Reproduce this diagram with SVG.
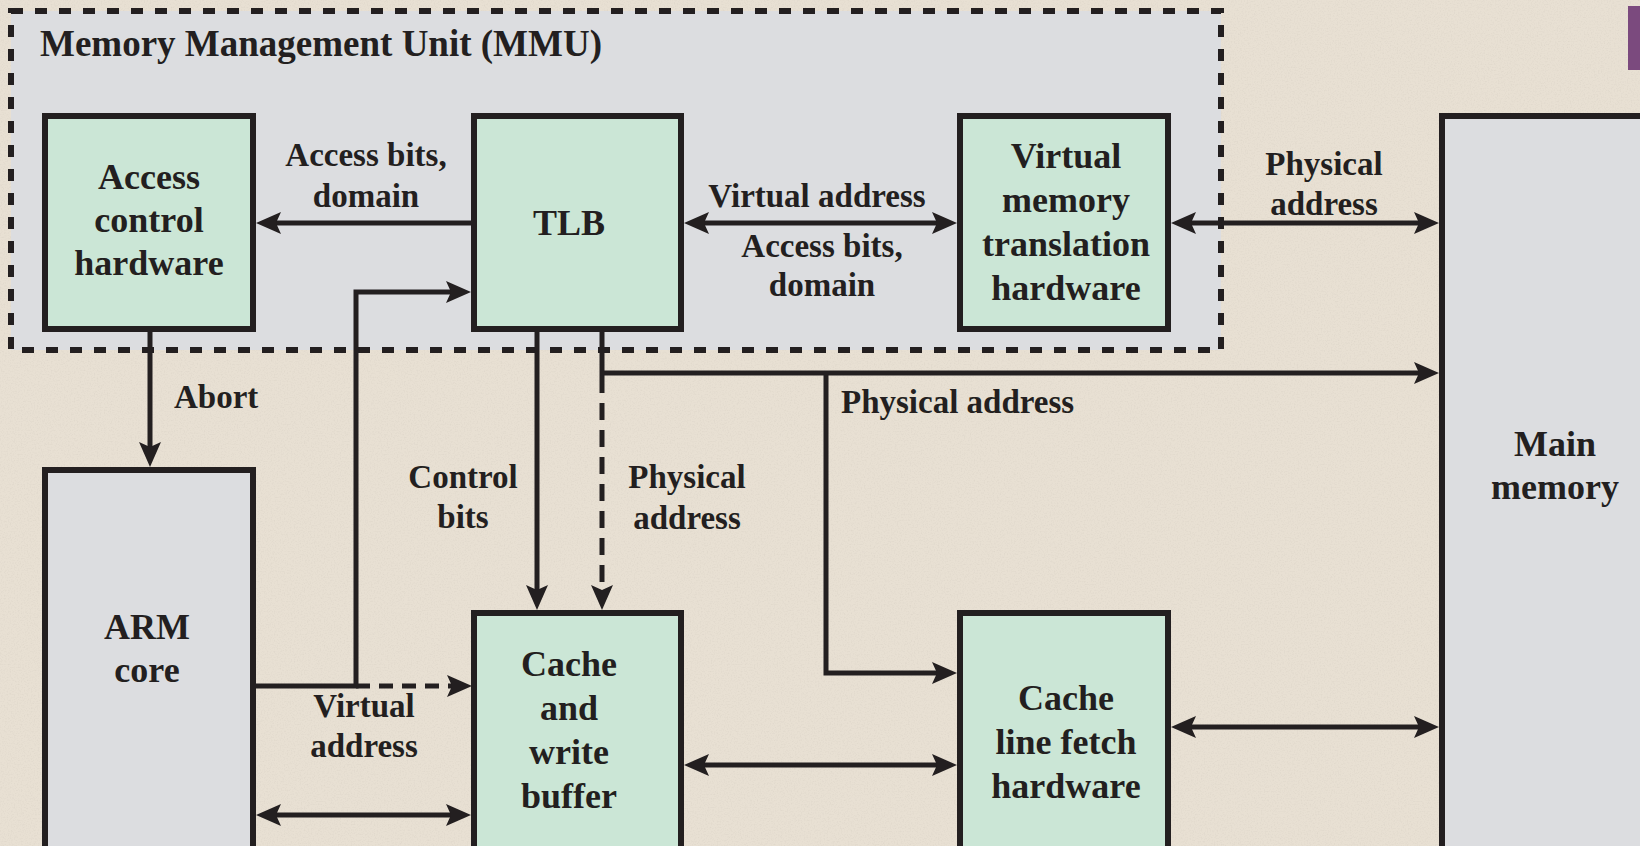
<svg xmlns="http://www.w3.org/2000/svg" width="1640" height="846" viewBox="0 0 1640 846">
<defs>
<style>
.box{stroke:#231f20;stroke-width:6}
.g{fill:#cbe6d6}
.gr{fill:#dcdde0}
.t{font-family:"Liberation Serif","Times New Roman",serif;font-weight:bold;fill:#231f20;text-anchor:middle}
.n{font-size:36px}
.l{font-size:33px}
.c{fill:none;stroke:#231f20;stroke-width:5}
.d{stroke-dasharray:17 10}
</style>
<marker id="ah" viewBox="0 -12 28 24" refX="5" refY="0" markerWidth="28" markerHeight="24" markerUnits="userSpaceOnUse" orient="auto-start-reverse">
<path d="M0,-11 L25,0 L0,11 L5,0 Z" fill="#231f20"/>
</marker>
<filter id="grain" x="0" y="0" width="100%" height="100%">
<feTurbulence type="fractalNoise" baseFrequency="0.7" numOctaves="2" seed="7" result="n"/>
<feColorMatrix in="n" type="matrix" values="0 0 0 0 0.62  0 0 0 0 0.57  0 0 0 0 0.5  0 0 0 -2.4 1.3"/>
</filter>
</defs>
<rect id="background" x="0" y="0" width="1640" height="846" fill="#e8e0d3"/>
<rect x="0" y="0" width="1640" height="846" filter="url(#grain)" opacity="0.3"/>
<rect id="accent" x="1628" y="6" width="12" height="64" fill="#7b4a7e"/>

<g id="mmu">
<rect x="11" y="11" width="1210" height="339" fill="#dcdde0" stroke="#231f20" stroke-width="6" stroke-dasharray="12 12"/>
<text class="t" x="40" y="56" style="font-size:37px;text-anchor:start">Memory Management Unit (MMU)</text>
</g>

<g id="connectors">
<line class="c" x1="471" y1="223" x2="276" y2="223" marker-end="url(#ah)"/>
<line class="c" x1="704" y1="223" x2="937" y2="223" marker-start="url(#ah)" marker-end="url(#ah)"/>
<line class="c" x1="1191" y1="223" x2="1419" y2="223" marker-start="url(#ah)" marker-end="url(#ah)"/>
<line class="c" x1="150" y1="331" x2="150" y2="447" marker-end="url(#ah)"/>
<path class="c" d="M256,686 H356 V292 H451" marker-end="url(#ah)"/>
<path class="c" d="M356,686 H452" style="stroke-dasharray:14 9" marker-end="url(#ah)"/>
<line class="c" x1="537" y1="331" x2="537" y2="590" marker-end="url(#ah)"/>
<line class="c" x1="602" y1="331" x2="602" y2="376"/>
<path class="c d" d="M602,376 V590" marker-end="url(#ah)"/>
<path class="c" d="M600,373 H1419" marker-end="url(#ah)"/>
<path class="c" d="M826,373 V673 H937" marker-end="url(#ah)"/>
<line class="c" x1="704" y1="765" x2="937" y2="765" marker-start="url(#ah)" marker-end="url(#ah)"/>
<line class="c" x1="1191" y1="727" x2="1419" y2="727" marker-start="url(#ah)" marker-end="url(#ah)"/>
<line class="c" x1="276" y1="815" x2="451" y2="815" marker-start="url(#ah)" marker-end="url(#ah)"/>
</g>

<g id="connector-labels">
<text class="t l" x="366" y="166">Access bits,</text>
<text class="t l" x="366" y="207">domain</text>
<text class="t l" x="817" y="207">Virtual address</text>
<text class="t l" x="822" y="257">Access bits,</text>
<text class="t l" x="822" y="296">domain</text>
<text class="t l" x="1324" y="175">Physical</text>
<text class="t l" x="1324" y="215">address</text>
<text class="t l" x="174" y="408" style="text-anchor:start">Abort</text>
<text class="t l" x="463" y="488">Control</text>
<text class="t l" x="463" y="528">bits</text>
<text class="t l" x="687" y="488">Physical</text>
<text class="t l" x="687" y="529">address</text>
<text class="t l" x="841" y="413" style="text-anchor:start">Physical address</text>
<text class="t l" x="364" y="717">Virtual</text>
<text class="t l" x="364" y="757">address</text>
</g>

<g id="access-control">
<rect class="box g" x="45" y="116" width="208" height="213"/>
<text class="t n" x="149" y="189">Access</text>
<text class="t n" x="149" y="232">control</text>
<text class="t n" x="149" y="275">hardware</text>
</g>

<g id="tlb">
<rect class="box g" x="474" y="116" width="207" height="213"/>
<text class="t n" x="569" y="235">TLB</text>
</g>

<g id="vm-translation">
<rect class="box g" x="960" y="116" width="208" height="213"/>
<text class="t n" x="1066" y="168">Virtual</text>
<text class="t n" x="1066" y="212">memory</text>
<text class="t n" x="1066" y="256">translation</text>
<text class="t n" x="1066" y="300">hardware</text>
</g>

<g id="main-memory">
<rect class="box gr" x="1442" y="116" width="300" height="800"/>
<text class="t n" x="1555" y="456">Main</text>
<text class="t n" x="1555" y="499">memory</text>
</g>

<g id="arm-core">
<rect class="box gr" x="45" y="470" width="208" height="420"/>
<text class="t n" x="147" y="639">ARM</text>
<text class="t n" x="147" y="682">core</text>
</g>

<g id="cache">
<rect class="box g" x="474" y="613" width="207" height="300"/>
<text class="t n" x="569" y="676">Cache</text>
<text class="t n" x="569" y="720">and</text>
<text class="t n" x="569" y="764">write</text>
<text class="t n" x="569" y="808">buffer</text>
</g>

<g id="cache-line-fetch">
<rect class="box g" x="960" y="613" width="208" height="300"/>
<text class="t n" x="1066" y="710">Cache</text>
<text class="t n" x="1066" y="754">line fetch</text>
<text class="t n" x="1066" y="798">hardware</text>
</g>
</svg>
